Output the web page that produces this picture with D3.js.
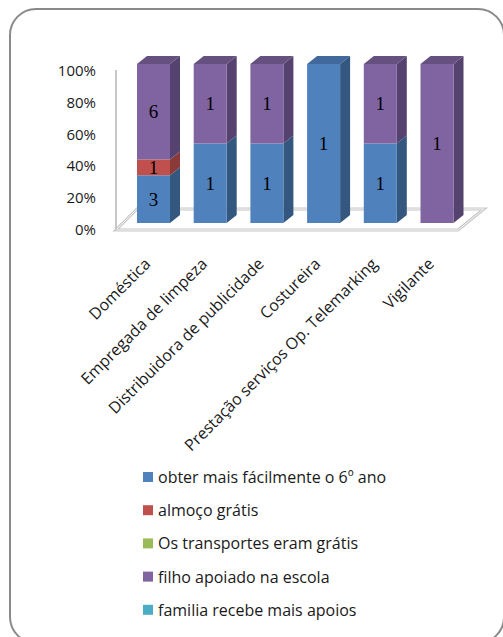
<!DOCTYPE html>
<html><head><meta charset="utf-8">
<script src="https://cdn.jsdelivr.net/npm/d3@7"></script>
<style>html,body{margin:0;padding:0;background:#fff;}svg{display:block;}</style>
</head><body>
<script>
const categories = ["Doméstica","Empregada de limpeza","Distribuidora de publicidade","Costureira","Prestação serviços Op. Telemarking","Vigilante"];
const seriesNames = ["obter mais fácilmente o 6º ano","almoço grátis","Os transportes eram grátis","filho apoiado na escola","familia recebe mais apoios"];
const obterMais = [3,1,1,1,1,0];
const almoco = [1,0,0,0,0,0];
const transportes = [0,0,0,0,0,0];
const filhoApoiado = [6,1,1,0,1,1];
const familia = [0,0,0,0,0,0];
const yTicks = [0,0.2,0.4,0.6,0.8,1];

const seriesValues = [obterMais, almoco, transportes, filhoApoiado, familia];
const front = ["#4F81BD","#C0504D","#9BBB59","#8064A2","#4BACC6"];
const side  = ["#34577F","#8A3A38","#6F8A3E","#55426F","#327C8F"];
const top_  = ["#41699B","#A0443F","#82A04B","#66507F","#3D93A8"];

const W=503,H=637;
const svg=d3.select("body").append("svg").attr("width",W).attr("height",H);

// frame
svg.append("rect").attr("x",10).attr("y",9).attr("width",494).attr("height",634)
  .attr("rx",26).attr("fill","#fff").attr("stroke","#8a8a8a").attr("stroke-width",2);

const x=d3.scaleBand().domain(categories).range([137,453.5]).paddingInner(0.418).paddingOuter(0);
const y=d3.scaleLinear().domain([0,1]).range([223,64]);
const dx=10, dy=8;

// floor & axis wall line
const g=svg.append("g");
const floor=[[116,230],[458,230],[484,209],[137,209]];
g.append("polygon").attr("points",floor.map(p=>p.join(",")).join(" "))
  .attr("fill","none").attr("stroke","#c8c8c8").attr("stroke-width",3);
g.append("polygon").attr("points",floor.map(p=>p.join(",")).join(" "))
  .attr("fill","none").attr("stroke","#f4f4f4").attr("stroke-width",1);
g.append("line").attr("x1",116).attr("x2",116).attr("y1",70).attr("y2",230)
  .attr("stroke","#c8c8c8").attr("stroke-width",2);

// y labels
svg.append("g").selectAll("text").data(yTicks).join("text")
  .attr("x",96).attr("y",d=>y(d)+8).attr("text-anchor","end").attr("dominant-baseline","middle")
  .attr("font-family","Open Sans").attr("font-size",15).attr("fill","#1a1a1a")
  .text(d3.format(".0%"));

// bars
const totals=categories.map((c,i)=>d3.sum(seriesValues,s=>s[i]));
const bars=svg.append("g");
categories.forEach((c,i)=>{
  let cum=0;
  const segs=[];
  seriesValues.forEach((s,k)=>{
    const v=s[i]; if(!v) return;
    const p0=cum/totals[i], p1=(cum+v)/totals[i];
    segs.push({k,v,p0,p1}); cum+=v;
  });
  const x0=x(c), bw=x.bandwidth();
  segs.forEach((sg,j)=>{
    const yb=y(sg.p0), yt=y(sg.p1);
    bars.append("polygon").attr("points",[[x0+bw,yb],[x0+bw+dx,yb-dy],[x0+bw+dx,yt-dy],[x0+bw,yt]].map(p=>p.join(",")).join(" "))
      .attr("fill",side[sg.k]);
    bars.append("rect").attr("x",x0).attr("y",yt).attr("width",bw).attr("height",yb-yt).attr("fill",front[sg.k]);
    if(j===segs.length-1){
      bars.append("polygon").attr("points",[[x0,yt],[x0+bw,yt],[x0+bw+dx,yt-dy],[x0+dx,yt-dy]].map(p=>p.join(",")).join(" "))
        .attr("fill",top_[sg.k]);
    }
    bars.append("text").attr("x",x0+bw/2).attr("y",(yb+yt)/2).attr("text-anchor","middle")
      .attr("dominant-baseline","central").attr("font-family","Liberation Serif").attr("font-size",19)
      .attr("fill","#000").text(sg.v);
  });
});

// category labels
svg.append("g").selectAll("text").data(categories).join("text")
  .attr("transform",d=>`translate(${x(d)+x.bandwidth()/2-2},${265}) rotate(-45)`)
  .attr("text-anchor","end").attr("font-family","Open Sans").attr("font-size",16)
  .attr("fill","#1a1a1a").text(d=>d);

// legend
const lg=svg.append("g").selectAll("g").data(seriesNames).join("g")
  .attr("transform",(d,i)=>`translate(143,${477+i*33.2})`);
lg.append("rect").attr("x",0).attr("y",-5).attr("width",10).attr("height",10).attr("fill",(d,i)=>front[i]);
lg.append("text").attr("x",15).attr("y",0).attr("dominant-baseline","central")
  .attr("font-family","Open Sans").attr("font-size",16).attr("fill","#1a1a1a").text(d=>d);
</script>
</body></html>
